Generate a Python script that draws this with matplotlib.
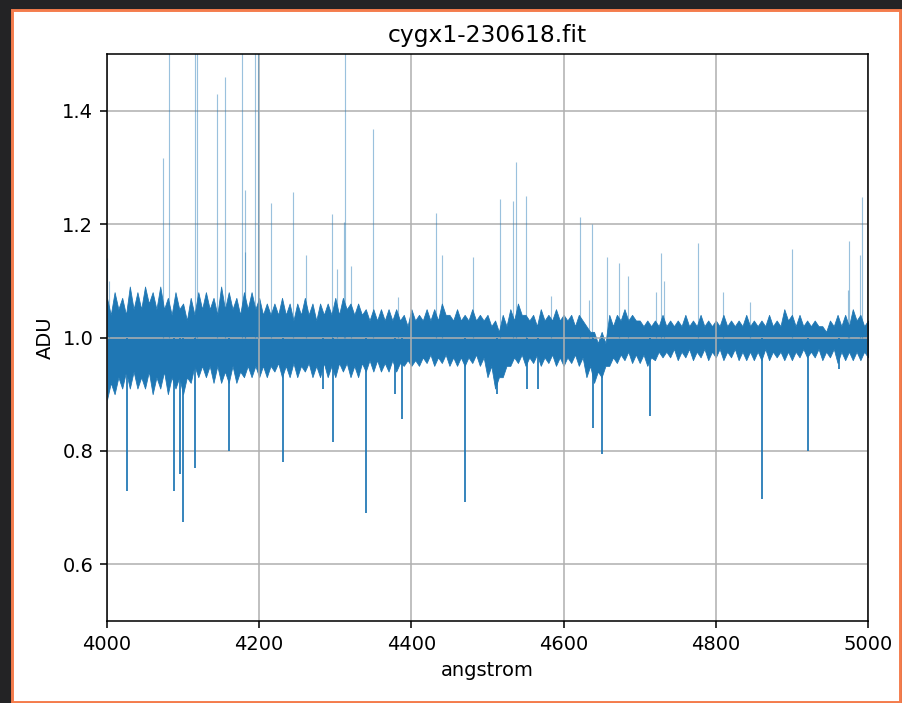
import matplotlib.pyplot as plt
from matplotlib.patches import Rectangle

title = 'cygx1-230618.fit'

# noise band, every 10 angstrom
env_wl = list(range(4000, 5001, 10))
# outer (fuzzy) edge of the band
env_hi = [1.07, 1.08, 1.07, 1.09, 1.08, 1.09, 1.08, 1.09, 1.07, 1.08,
          1.06, 1.07, 1.08, 1.08, 1.07, 1.09, 1.08, 1.07, 1.08, 1.08,
          1.07, 1.06, 1.06, 1.07, 1.06, 1.06, 1.07, 1.06, 1.06, 1.06,
          1.07, 1.07, 1.06, 1.06, 1.05, 1.05, 1.05, 1.05, 1.05, 1.04,
          1.05, 1.04, 1.05, 1.05, 1.06, 1.04, 1.05, 1.04, 1.05, 1.04,
          1.04, 1.03, 1.04, 1.05, 1.06, 1.04, 1.04, 1.05, 1.04, 1.05,
          1.04, 1.04, 1.04, 1.02, 1.01, 1.01, 1.04, 1.04, 1.05, 1.04,
          1.03, 1.03, 1.03, 1.04, 1.03, 1.03, 1.04, 1.03, 1.04, 1.03,
          1.03, 1.04, 1.03, 1.03, 1.04, 1.03, 1.03, 1.04, 1.03, 1.05,
          1.04, 1.04, 1.03, 1.03, 1.02, 1.03, 1.04, 1.04, 1.05, 1.04,
          1.03]
env_lo = [0.89, 0.90, 0.91, 0.91, 0.91, 0.91, 0.90, 0.91, 0.90, 0.91,
          0.90, 0.92, 0.93, 0.93, 0.92, 0.92, 0.92, 0.92, 0.93, 0.93,
          0.93, 0.93, 0.94, 0.93, 0.93, 0.93, 0.94, 0.93, 0.93, 0.93,
          0.93, 0.94, 0.93, 0.93, 0.94, 0.94, 0.94, 0.94, 0.94, 0.95,
          0.95, 0.95, 0.955, 0.95, 0.955, 0.95, 0.95, 0.95, 0.955, 0.95,
          0.93, 0.91, 0.93, 0.95, 0.955, 0.95, 0.955, 0.95, 0.955, 0.95,
          0.95, 0.955, 0.95, 0.93, 0.92, 0.93, 0.95, 0.955, 0.96, 0.955,
          0.955, 0.95, 0.96, 0.965, 0.965, 0.96, 0.965, 0.96, 0.965, 0.96,
          0.965, 0.96, 0.965, 0.96, 0.96, 0.96, 0.96, 0.96, 0.965, 0.96,
          0.96, 0.965, 0.965, 0.965, 0.96, 0.965, 0.955, 0.96, 0.96, 0.96,
          0.965]
# inner edge between the noise peaks, read half-way between the knots above
core_hi = [1.04, 1.05, 1.04, 1.05, 1.05, 1.06, 1.05, 1.05, 1.04, 1.05,
           1.03, 1.04, 1.05, 1.05, 1.04, 1.05, 1.05, 1.04, 1.05, 1.05,
           1.04, 1.04, 1.04, 1.04, 1.03, 1.04, 1.04, 1.03, 1.04, 1.04,
           1.04, 1.05, 1.04, 1.04, 1.03, 1.03, 1.03, 1.03, 1.03, 1.02,
           1.03, 1.03, 1.03, 1.03, 1.04, 1.03, 1.03, 1.03, 1.03, 1.03,
           1.02, 1.01, 1.02, 1.03, 1.04, 1.03, 1.02, 1.03, 1.03, 1.03,
           1.03, 1.02, 1.03, 1.01, 0.99, 0.99, 1.02, 1.03, 1.03, 1.03,
           1.02, 1.02, 1.02, 1.02, 1.02, 1.02, 1.02, 1.02, 1.02, 1.02,
           1.02, 1.02, 1.02, 1.02, 1.02, 1.02, 1.02, 1.02, 1.02, 1.03,
           1.02, 1.02, 1.02, 1.02, 1.01, 1.02, 1.02, 1.02, 1.03, 1.02]
core_lo = [0.92, 0.93, 0.94, 0.94, 0.93, 0.94, 0.93, 0.94, 0.93, 0.93,
           0.93, 0.95, 0.95, 0.95, 0.95, 0.94, 0.95, 0.94, 0.95, 0.95,
           0.95, 0.95, 0.955, 0.95, 0.955, 0.95, 0.955, 0.95, 0.955, 0.95,
           0.955, 0.955, 0.95, 0.955, 0.96, 0.96, 0.955, 0.96, 0.955, 0.96,
           0.96, 0.965, 0.97, 0.965, 0.97, 0.965, 0.965, 0.965, 0.97, 0.965,
           0.95, 0.93, 0.95, 0.965, 0.97, 0.965, 0.97, 0.965, 0.97, 0.965,
           0.965, 0.97, 0.965, 0.95, 0.94, 0.95, 0.965, 0.97, 0.975, 0.97,
           0.97, 0.965, 0.975, 0.975, 0.98, 0.975, 0.98, 0.975, 0.98, 0.975,
           0.98, 0.975, 0.98, 0.975, 0.975, 0.975, 0.98, 0.975, 0.975, 0.975,
           0.975, 0.98, 0.975, 0.98, 0.975, 0.98, 0.975, 0.975, 0.975, 0.975]

# narrow upward spikes (values above 1.5 are clipped in the picture)
spike_wl = [4000, 4003, 4074, 4081, 4116, 4118, 4145, 4155, 4177, 4181,
            4182, 4195, 4198, 4216, 4245, 4261, 4296, 4302, 4311, 4313,
            4320, 4350, 4383, 4433, 4440, 4481, 4516, 4534, 4538, 4551,
            4583, 4621, 4634, 4637, 4657, 4673, 4684, 4721, 4728, 4732,
            4776, 4809, 4845, 4900, 4974, 4975, 4990, 4992]
spike_top = [1.14, 1.10, 1.316, 1.60, 1.60, 1.60, 1.43, 1.46, 1.60, 1.26,
             1.15, 1.60, 1.60, 1.237, 1.256, 1.145, 1.218, 1.12, 1.204, 1.60,
             1.126, 1.368, 1.072, 1.22, 1.145, 1.142, 1.244, 1.24, 1.31, 1.25,
             1.073, 1.213, 1.067, 1.201, 1.142, 1.132, 1.109, 1.081, 1.149, 1.10,
             1.167, 1.08, 1.062, 1.156, 1.084, 1.17, 1.145, 1.248]

# absorption lines
dip_wl = [4026, 4088, 4096, 4100, 4116, 4160, 4231, 4284, 4297, 4340,
          4378, 4388, 4470, 4512, 4552, 4566, 4639, 4650, 4713, 4861,
          4921, 4962]
dip_bottom = [0.73, 0.73, 0.76, 0.675, 0.77, 0.80, 0.78, 0.91, 0.815, 0.69,
              0.90, 0.856, 0.71, 0.90, 0.91, 0.91, 0.84, 0.795, 0.862, 0.716,
              0.80, 0.944]

# merge outer and inner readings into one ragged edge
edge_wl, edge_hi, edge_lo = [], [], []
for i, w in enumerate(env_wl):
    edge_wl.append(w)
    edge_hi.append(env_hi[i])
    edge_lo.append(env_lo[i])
    if i < len(core_hi):
        edge_wl.append(w + 5)
        edge_hi.append(core_hi[i])
        edge_lo.append(core_lo[i])

dpi = 140
fig = plt.figure(figsize=(902 / dpi, 703 / dpi), dpi=dpi, facecolor='#232325')
# screenshot frame: white page with an orange edge, kept behind the axes
fig.patches.append(Rectangle((12 / 902, 1 / 703), 888 / 902, 692 / 703,
                             transform=fig.transFigure, facecolor='white',
                             edgecolor='#f47c4c', linewidth=1.5, zorder=-10))

ax = fig.add_axes([0.1186, 0.1166, 0.8437, 0.8066])
ax.fill_between(edge_wl, edge_lo, edge_hi, color='C0', linewidth=0.4)
ax.vlines(spike_wl, 1.0, spike_top, color='C0', linewidth=0.6, alpha=0.45)
ax.vlines(dip_wl, dip_bottom, 1.0, color='C0', linewidth=1.0, alpha=0.9)

ax.set_xlim(4000, 5000)
ax.set_ylim(0.5, 1.5)
ax.set_yticks([0.6, 0.8, 1.0, 1.2, 1.4])
ax.grid(True)
ax.set_title(title)
ax.set_xlabel('angstrom')
ax.set_ylabel('ADU')

fig.savefig('out.png', dpi=dpi, facecolor=fig.get_facecolor())
